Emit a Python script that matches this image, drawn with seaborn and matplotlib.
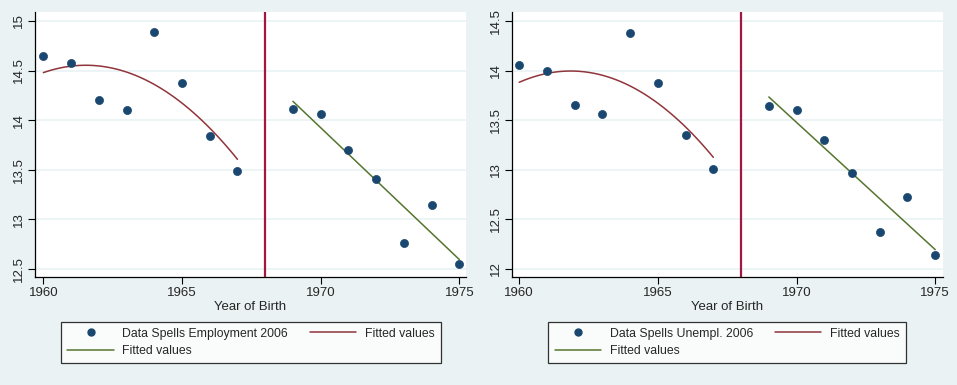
import numpy as np
import pandas as pd
import matplotlib
matplotlib.use("Agg")
import matplotlib.pyplot as plt
import seaborn as sns
from matplotlib.lines import Line2D

sns.set_style("white")
plt.rcParams['font.family'] = ['Liberation Sans', 'DejaVu Sans']

years_pre = [1960, 1961, 1962, 1963, 1964, 1965, 1966, 1967]
years_post = [1969, 1970, 1971, 1972, 1973, 1974, 1975]
employ_pre = [14.645, 14.577, 14.199, 14.105, 14.886, 14.373, 13.840, 13.488]
employ_post = [14.115, 14.058, 13.702, 13.407, 12.767, 13.146, 12.555]
unempl_pre = [14.054, 13.994, 13.652, 13.561, 14.379, 13.876, 13.350, 13.005]
unempl_post = [13.642, 13.602, 13.300, 12.968, 12.374, 12.726, 12.142]
cutoff = 1968
xticks = [1960, 1965, 1970, 1975]
yticks_left = [12.5, 13, 13.5, 14, 14.5, 15]
yticks_right = [12, 12.5, 13, 13.5, 14, 14.5]
labels = ["Data Spells Employment 2006", "Data Spells Unempl. 2006"]

BG = "#EAF2F3"
NAVY = "#1A476F"
MAROON = "#90353B"
GREEN = "#55752F"
VLINE = "#A0173F"

fig = plt.figure(figsize=(9.57, 3.85), dpi=100, facecolor=BG)
ax1 = fig.add_axes([35/957, 1 - 277/385, 431/957, 265/385])
ax2 = fig.add_axes([511.7/957, 1 - 277/385, 431.3/957, 265/385])

panels = [
    (ax1, employ_pre, employ_post, yticks_left, (12.42, 15.09), labels[0], (1959.7, 1975.24), 251/957),
    (ax2, unempl_pre, unempl_post, yticks_right, (11.92, 14.59), labels[1], (1959.73, 1975.28), 727/957),
]

for ax, pre, post, yt, ylim, lab, xlim, lx in panels:
    ax.set_facecolor("white")
    df_pre = pd.DataFrame({"x": years_pre, "y": pre})
    df_post = pd.DataFrame({"x": years_post, "y": post})
    df_all = pd.concat([df_pre, df_post])
    for t in yt:
        ax.axhline(t, color=BG, lw=1.2, zorder=0)
    sns.regplot(data=df_pre, x="x", y="y", order=2, ci=None, scatter=False,
                line_kws=dict(color=MAROON, lw=1.1), ax=ax, truncate=True)
    sns.regplot(data=df_post, x="x", y="y", ci=None, scatter=False,
                line_kws=dict(color=GREEN, lw=1.1), ax=ax, truncate=True)
    sns.scatterplot(data=df_all, x="x", y="y", color=NAVY, s=34, edgecolor=NAVY,
                    linewidth=0.5, ax=ax, zorder=5)
    ax.axvline(cutoff, color=VLINE, lw=1.6, zorder=3)
    ax.set_xlim(*xlim)
    ax.set_ylim(*ylim)
    ax.set_xticks(xticks)
    ax.set_yticks(yt)
    ax.set_yticklabels([f"{v:g}" for v in yt], rotation=90, va="center")
    ax.tick_params(axis="both", direction="out", length=5, width=0.8, color="black",
                   labelsize=9.5, pad=2, left=True, bottom=True)
    for s in ["top", "right"]:
        ax.spines[s].set_visible(False)
    for s in ["left", "bottom"]:
        ax.spines[s].set_color("black")
        ax.spines[s].set_linewidth(0.9)
    ax.set_xlabel("Year of Birth", fontsize=9.5, labelpad=2)
    ax.set_ylabel("")

    handles = [
        Line2D([], [], ls="none", marker="o", color=NAVY, markersize=5),
        Line2D([], [], color=GREEN, lw=1.1),
        Line2D([], [], color=MAROON, lw=1.1),
    ]
    leg = fig.legend(handles, [lab, "Fitted values", "Fitted values"], ncol=2,
                     loc="center", bbox_to_anchor=(lx, 42.5/385), fontsize=8.8,
                     frameon=True, fancybox=False, edgecolor="black",
                     handlelength=3.8, handletextpad=0.7, columnspacing=1.8,
                     labelspacing=0.45, borderpad=0.5)
    leg.get_frame().set_linewidth(0.9)
    leg.get_frame().set_facecolor("white")

fig.savefig("out.png", dpi=100, facecolor=BG)
